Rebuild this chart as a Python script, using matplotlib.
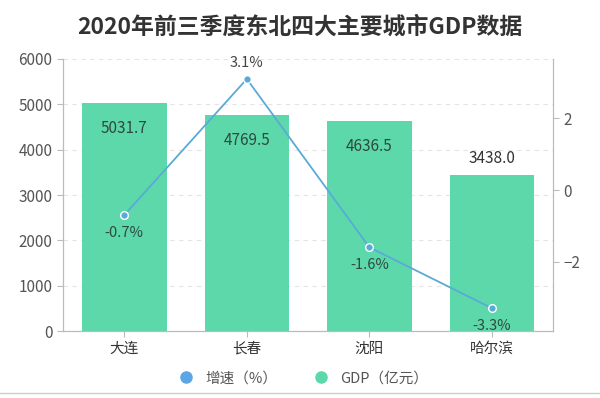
import matplotlib
matplotlib.use('Agg')
import matplotlib.pyplot as plt
from matplotlib.lines import Line2D

plt.rcParams['font.family'] = ['Noto Sans CJK SC', 'DejaVu Sans']

cities = ['大连', '长春', '沈阳', '哈尔滨']
gdp = [5031.7, 4769.5, 4636.5, 3438.0]
growth = [-0.7, 3.1, -1.6, -3.3]
gdp_ticks = [0, 1000, 2000, 3000, 4000, 5000, 6000]
growth_ticks = [-2, 0, 2]

bar_color = '#5dd8aa'
line_color = '#5aaad8'
axis_color = '#bbbbbb'
text_color = '#555555'

fig = plt.figure(figsize=(6, 3.98), dpi=100)
ax = fig.add_axes([0.105, 0.168, 0.817, 0.684])
ax2 = ax.twinx()

x = range(len(cities))
ax.bar(x, gdp, width=0.69, color=bar_color, zorder=2)
ax.set_xlim(-0.5, len(cities) - 0.5)
ax.set_ylim(0, 6000)
ax.set_yticks(gdp_ticks)
ax.set_xticks(list(x))
ax.set_xticklabels(cities)
ax.yaxis.grid(True, linestyle=(0, (4, 4)), color='#e4e4e4', linewidth=0.8)
ax.set_axisbelow(True)

# bar labels: inside near the top, except the last one which sits above
for i, v in enumerate(gdp):
    if i == len(gdp) - 1:
        ax.text(i, v + 180, f'{v:.1f}', ha='center', va='bottom', fontsize=11, color='#333333', zorder=4)
    else:
        ax.text(i, v - 560, f'{v:.1f}', ha='center', va='center', fontsize=11, color='#2d4a3e', zorder=4)

ax2.plot(list(x), growth, color=line_color, linewidth=1.3, marker='o', markersize=5.5,
         markerfacecolor=line_color, markeredgecolor='white', markeredgewidth=1, zorder=3)
ax2.set_ylim(-3.94, 3.66)
ax2.set_yticks(growth_ticks)

for i, v in enumerate(growth):
    if v > 0:
        ax2.text(i, v + 0.25, f'{v}%', ha='center', va='bottom', fontsize=10.5, color='#444444')
    else:
        ax2.text(i, v - 0.3, f'{v}%', ha='center', va='top', fontsize=10.5, color='#2d4a3e')

for a in (ax, ax2):
    a.spines['top'].set_visible(False)
    for side in ('left', 'right', 'bottom'):
        a.spines[side].set_color(axis_color)
    a.tick_params(colors=axis_color, labelcolor=text_color, labelsize=11, length=4)
ax.tick_params(axis='x', labelsize=10.5, labelcolor='#333333')

fig.suptitle('2020年前三季度东北四大主要城市GDP数据', x=0.5, y=0.96,
             fontsize=16.5, fontweight='bold', color='#333333')

handles = [
    Line2D([], [], linestyle='none', marker='o', markersize=8, color='#5aa6e6', label='增速（%）'),
    Line2D([], [], linestyle='none', marker='o', markersize=8, color=bar_color, label='GDP（亿元）'),
]
leg = fig.legend(handles=handles, loc='center', bbox_to_anchor=(0.5, 0.05), ncol=2,
                 frameon=False, fontsize=10.5, handletextpad=0.3, columnspacing=2.0)
for t in leg.get_texts():
    t.set_color(text_color)

fig.add_artist(Line2D([0, 1], [0.012, 0.012], color='#cccccc', linewidth=1, transform=fig.transFigure))

fig.savefig('out.png', dpi=100, facecolor='white')
